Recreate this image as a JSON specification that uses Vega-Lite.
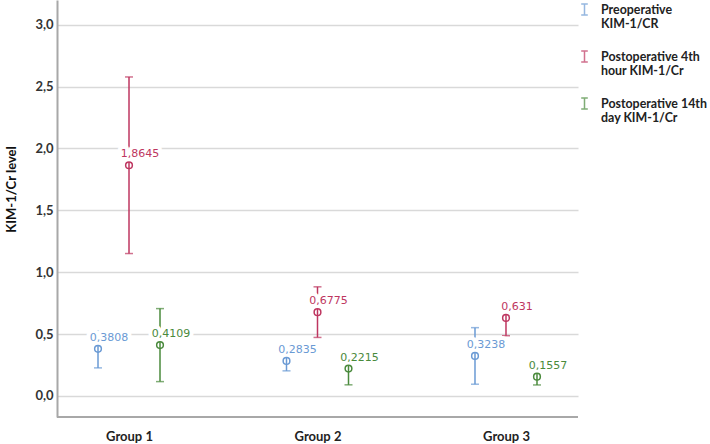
{
  "$schema": "https://vega.github.io/schema/vega-lite/v6.json",
  "width": 521,
  "height": 417,
  "autosize": "none",
  "padding": {"left": 57, "top": 0, "right": 132, "bottom": 27},
  "config": {
    "locale": {"number": {"decimal": ",", "thousands": ".", "grouping": [3], "currency": ["", " €"]}},
    "view": {"stroke": null},
    "font": "Lato",
    "legend": {
      "symbolType": "M-0.6,-1H0.6M0,-1V1M-0.6,1H0.6",
      "symbolSize": 121,
      "symbolStrokeWidth": 1.5,
      "symbolFillColor": "transparent"
    }
  },
  "data": {
    "values": [
      {"group": "Group 1", "series": "Preoperative KIM-1/CR", "mean": 0.3808, "lower": 0.227, "upper": 0.525},
      {"group": "Group 1", "series": "Postoperative 4th hour KIM-1/Cr", "mean": 1.8645, "lower": 1.151, "upper": 2.578},
      {"group": "Group 1", "series": "Postoperative 14th day KIM-1/Cr", "mean": 0.4109, "lower": 0.116, "upper": 0.706},
      {"group": "Group 2", "series": "Preoperative KIM-1/CR", "mean": 0.2835, "lower": 0.203, "upper": 0.364},
      {"group": "Group 2", "series": "Postoperative 4th hour KIM-1/Cr", "mean": 0.6775, "lower": 0.473, "upper": 0.882},
      {"group": "Group 2", "series": "Postoperative 14th day KIM-1/Cr", "mean": 0.2215, "lower": 0.09, "upper": 0.353},
      {"group": "Group 3", "series": "Preoperative KIM-1/CR", "mean": 0.3238, "lower": 0.095, "upper": 0.552},
      {"group": "Group 3", "series": "Postoperative 4th hour KIM-1/Cr", "mean": 0.631, "lower": 0.487, "upper": 0.77},
      {"group": "Group 3", "series": "Postoperative 14th day KIM-1/Cr", "mean": 0.1557, "lower": 0.089, "upper": 0.222}
    ]
  },
  "encoding": {
    "x": {
      "field": "group", "type": "nominal", "title": null,
      "scale": {"type": "point", "padding": 0.382},
      "axis": {"domain": false, "ticks": false, "grid": false, "labelAngle": 0, "labelFont": "Lato", "labelFontWeight": "bold", "labelFontSize": 13, "labelColor": "#222222", "labelPadding": 13, "labelDx": 11}
    },
    "xOffset": {
      "field": "series", "type": "nominal",
      "scale": {"type": "point", "padding": 0, "domain": ["Preoperative KIM-1/CR", "Postoperative 4th hour KIM-1/Cr", "Postoperative 14th day KIM-1/Cr"], "range": [-31, 31]}
    },
    "color": {
      "field": "series", "type": "nominal",
      "scale": {"domain": ["Preoperative KIM-1/CR", "Postoperative 4th hour KIM-1/Cr", "Postoperative 14th day KIM-1/Cr"], "range": ["#6a9ad4", "#be3660", "#4a8a3c"]}
    }
  },
  "layer": [
    {
      "mark": {"type": "rule", "strokeWidth": 1.5},
      "encoding": {
        "y": {
          "field": "lower", "type": "quantitative", "title": "KIM-1/Cr level",
          "scale": {"domain": [-0.17, 3.2], "nice": false, "zero": false},
          "axis": {
            "values": [0, 0.5, 1, 1.5, 2, 2.5, 3], "format": ".1f",
            "grid": true, "gridColor": "#d9d9d9", "gridWidth": 1.5,
            "domainColor": "#a8a8a8", "domainWidth": 2, "ticks": false,
            "labelFont": "Lato", "labelFontWeight": "bold", "labelFontSize": 13, "labelColor": "#333333", "labelPadding": 4,
            "titleFont": "Lato", "titleFontWeight": "bold", "titleFontSize": 13, "titleColor": "#111111",
            "titleX": -46, "titleY": 189, "titleBaseline": "middle"
          }
        },
        "y2": {"field": "upper"},
        "color": {
          "field": "series", "type": "nominal",
          "scale": {"domain": ["Preoperative KIM-1/CR", "Postoperative 4th hour KIM-1/Cr", "Postoperative 14th day KIM-1/Cr"], "range": ["#6a9ad4", "#be3660", "#4a8a3c"]},
          "legend": {
            "title": null, "orient": "none", "legendX": 521, "legendY": 3,
            "labelFont": "Lato", "labelFontWeight": "bold", "labelFontSize": 12.4, "labelColor": "#222222",
            "labelOffset": 10, "rowPadding": 17, "labelLimit": 200, "padding": 0,
            "labelExpr": "datum.label == 'Preoperative KIM-1/CR' ? ['Preoperative', 'KIM-1/CR'] : datum.label == 'Postoperative 4th hour KIM-1/Cr' ? ['Postoperative 4th', 'hour KIM-1/Cr'] : ['Postoperative 14th', 'day KIM-1/Cr']"
          }
        }
      }
    },
    {
      "mark": {"type": "tick", "size": 8, "thickness": 1.5},
      "encoding": {"y": {"field": "lower", "type": "quantitative", "title": "KIM-1/Cr level"}}
    },
    {
      "mark": {"type": "tick", "size": 8, "thickness": 1.5},
      "encoding": {"y": {"field": "upper", "type": "quantitative", "title": "KIM-1/Cr level"}}
    },
    {
      "mark": {"type": "text", "font": "DejaVu Sans", "fontSize": 11, "dx": 11, "dy": -11, "baseline": "middle", "stroke": "white", "strokeWidth": 8, "strokeJoin": "round", "fill": "white"},
      "encoding": {
        "y": {"field": "mean", "type": "quantitative", "title": "KIM-1/Cr level"},
        "text": {"field": "mean", "type": "quantitative", "format": ".4~f"},
        "color": {"value": "white"}
      }
    },
    {
      "mark": {"type": "point", "shape": "circle", "filled": false, "size": 45, "strokeWidth": 1.5, "opacity": 1},
      "encoding": {"y": {"field": "mean", "type": "quantitative", "title": "KIM-1/Cr level"}}
    },
    {
      "mark": {"type": "text", "font": "DejaVu Sans", "fontSize": 11, "dx": 11, "dy": -11, "baseline": "middle"},
      "encoding": {
        "y": {"field": "mean", "type": "quantitative", "title": "KIM-1/Cr level"},
        "text": {"field": "mean", "type": "quantitative", "format": ".4~f"}
      }
    },
    {
      "data": {"values": [{}]},
      "mark": {"type": "rule", "color": "#a8a8a8", "strokeWidth": 2},
      "encoding": {"y": {"datum": -0.17, "type": "quantitative"}, "x": null, "xOffset": null, "color": null}
    }
  ]
}
